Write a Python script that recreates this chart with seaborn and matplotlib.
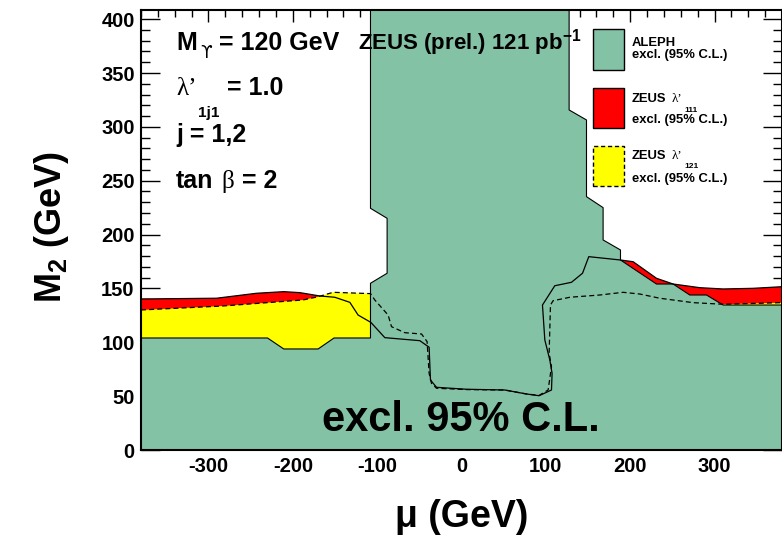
import numpy as np
import matplotlib
matplotlib.use("Agg")
import matplotlib.pyplot as plt
import seaborn as sns
from matplotlib.patches import Rectangle
from matplotlib.ticker import MultipleLocator

# ---------------- data ----------------
# ALEPH excluded region (polygon outline, mu in GeV, M2 in GeV)
aleph_mu = [-380, -380, -230.0, -210.7, -170.0, -151.1, -107.9, -107.9, -88.2, -88.2,
            -107.9, -107.9, 127.6, 127.6, 148.2, 148.2, 167.9, 167.9, 188.5, 188.5,
            231.2, 250.9, 270.7, 290.5, 310.2, 380, 380]
aleph_m2 = [0, 104, 104, 93.8, 93.8, 104, 104, 154.8, 164.1, 215.1,
            224.4, 430, 430, 315.7, 306.4, 235.2, 225.0, 195.0, 185.7, 176.4,
            154.1, 154.1, 143.9, 143.9, 134.6, 134.6, 0]

# ZEUS lambda'_111 exclusion contour (solid)
z111_mu = [-380, -290.5, -243.1, -210.7, -191.7, -168.0, -150.2, -132.4, -122.6, -107.5,
           -90.9, -49.4, -38.4, -36.8, -29.6, 5.9, 51.3, 77.1, 92.0, 106.7,
           107.4, 104.7, 98.8, 96.0, 110.6, 130.4, 143.5, 150.9, 188.5, 203.5,
           231.2, 250.9, 282.5, 310.2, 345.7, 380]
z111_m2 = [140.2, 140.9, 145.5, 147.0, 146.1, 143.0, 141.8, 137.1, 125.3, 118.5,
           104.3, 101.5, 95.4, 65.0, 58.2, 56.4, 55.7, 52.0, 50.4, 55.7,
           71.2, 83.6, 102.1, 134.6, 152.5, 155.7, 164.1, 179.5, 176.4, 174.8,
           159.4, 154.1, 150.7, 149.5, 150.1, 151.6]

# ZEUS lambda'_121 exclusion contour (dashed)
z121_mu = [-380, -282.7, -187.8, -170.0, -152.2, -107.9, -102.8, -87.0, -83.0, -67.2,
           -47.4, -40.8, -38.4, -35.6, -29.6, 5.9, 51.3, 77.1, 92.0, 102.7,
           106.7, 103.9, 105.5, 108.6, 128.4, 164.0, 191.6, 211.4, 235.1, 274.6,
           310.2, 380]
z121_m2 = [130.0, 133.7, 139.3, 142.3, 146.4, 145.2, 139.3, 125.3, 114.5, 108.9,
           107.7, 100.6, 71.2, 61.9, 57.3, 56.1, 55.7, 52.0, 50.7, 55.7,
           77.3, 89.8, 134.6, 138.6, 141.8, 143.9, 146.4, 144.8, 140.9, 136.8,
           135.3, 136.8]

x_ticks = [-300, -200, -100, 0, 100, 200, 300]
y_ticks = [0, 50, 100, 150, 200, 250, 300, 350, 400]

GREEN = "#84C2A5"
RED = "#FF0000"
YELLOW = "#FFFF00"

# ---------------- style ----------------
sns.set_theme(style="ticks")
plt.rcParams.update({
    "font.family": ["Liberation Sans", "DejaVu Sans"],
    "font.weight": "bold",
    "text.color": "black",
    "axes.labelcolor": "black",
    "axes.edgecolor": "black",
    "xtick.color": "black",
    "ytick.color": "black",
    "axes.unicode_minus": False,
    "mathtext.fontset": "custom",
    "mathtext.rm": "Liberation Sans:bold",
    "mathtext.bf": "Liberation Sans:bold",
    "mathtext.it": "Liberation Sans:bold:italic",
    "mathtext.sf": "Liberation Sans:bold",
    "mathtext.default": "rm",
})

W, H = 782, 535
fig = plt.figure(figsize=(W / 100, H / 100), dpi=100)
fig.patch.set_facecolor("white")
ax = fig.add_axes([141 / W, 85 / H, 641 / W, 440 / H])
ax.set_facecolor("white")

# filled exclusion regions
mu1 = np.asarray(z111_mu); m1 = np.asarray(z111_m2)
mu2 = np.asarray(z121_mu); m2 = np.asarray(z121_m2)
ax.fill(np.r_[mu1, mu1[-1], mu1[0]], np.r_[m1, 0, 0], color=RED, lw=0, zorder=1)
ax.fill(np.r_[mu2, mu2[-1], mu2[0]], np.r_[m2, 0, 0], color=YELLOW, lw=0, zorder=2)
ax.fill(aleph_mu, aleph_m2, facecolor=GREEN, edgecolor="black", lw=0.8, zorder=3)

# contour lines
sns.lineplot(x=z111_mu, y=z111_m2, sort=False, estimator=None, color="black",
             linewidth=0.9, ax=ax, zorder=5)
sns.lineplot(x=z121_mu, y=z121_m2, sort=False, estimator=None, color="black",
             linewidth=0.9, linestyle=(0, (4, 2.5)), ax=ax, zorder=5)

ax.set_xlim(-380, 380)
ax.set_ylim(0, 408.5)
ax.set_xticks(x_ticks)
ax.set_yticks(y_ticks)
ax.set_xticklabels([str(v) for v in x_ticks])
ax.set_yticklabels([str(v) for v in y_ticks])
ax.xaxis.set_minor_locator(MultipleLocator(20))
ax.yaxis.set_minor_locator(MultipleLocator(10))
ax.tick_params(axis="x", which="major", direction="in", length=8.4, width=1.0,
               top=True, bottom=True, pad=5, labelsize=14.5, color="black",
               labelcolor="black")
ax.tick_params(axis="x", which="minor", direction="in", length=5, width=1.0,
               top=True, bottom=True, color="black")
ax.tick_params(axis="y", which="major", direction="in", length=13.7, width=1.0,
               left=True, right=True, pad=4.5, labelsize=14.5, color="black",
               labelcolor="black")
ax.tick_params(axis="y", which="minor", direction="in", length=6.5, width=1.0,
               left=True, right=True, color="black")
for lab in ax.get_xticklabels() + ax.get_yticklabels():
    lab.set_fontweight("bold")
for sp in ax.spines.values():
    sp.set_visible(True)
    sp.set_linewidth(1.5)
    sp.set_color("black")
    sp.set_zorder(10)
ax.grid(False)

# axis titles
ax.set_xlabel("μ (GeV)", fontsize=27, fontweight="bold", color="black")
ax.xaxis.label.set_va("baseline")
ax.xaxis.set_label_coords(0.5, (450 - 526.7) / 440)
ax.set_ylabel("M$_2$ (GeV)", fontsize=26, fontweight="bold", color="black")
ax.yaxis.label.set_va("baseline")
ax.yaxis.set_label_coords((61 - 141) / 641, (450 - 226.5) / 440)


def ftext(x, y, s, **kw):
    kw.setdefault("ha", "left")
    kw.setdefault("va", "baseline")
    kw.setdefault("fontweight", "bold")
    kw.setdefault("color", "black")
    return fig.text(x / W, 1 - y / H, s, zorder=20, **kw)


# annotations
ftext(176, 50, "M", fontsize=18)
ftext(200, 58, "ϒ", fontsize=12, family="DejaVu Sans", fontweight="normal")
ftext(219, 50, "= 120 GeV", fontsize=18)
ftext(358, 50, "ZEUS (prel.) 121 pb$^{-1}$", fontsize=16)
ftext(176, 95, "λ’", fontsize=18, family="Liberation Serif", fontweight="normal")
ftext(198, 116.7, "1j1", fontsize=11)
ftext(227, 95, "= 1.0", fontsize=18)
ftext(176, 141.7, "j = 1,2", fontsize=18)
ftext(176, 188.3, "tan", fontsize=18)
ftext(221, 188.3, "β", fontsize=18, family="Liberation Serif", fontweight="normal")
ftext(241.7, 188.3, "= 2", fontsize=18)
ftext(460.5, 430.7, "excl. 95% C.L.", fontsize=30, ha="center")

# key boxes (legend)
def keybox(y0, y1, face, ls="-"):
    r = Rectangle((593.3 / W, 1 - y1 / H), 31 / W, (y1 - y0) / H,
                  transform=fig.transFigure, facecolor=face, edgecolor="black",
                  lw=1.0, linestyle=ls, zorder=20)
    fig.patches.append(r)

keybox(29.3, 70, GREEN)
keybox(87.7, 127.7, RED)
keybox(145.7, 185.7, YELLOW, ls=(0, (3, 2)))
LF = 9.4
ftext(631.7, 46, "ALEPH", fontsize=LF)
ftext(631.7, 58.3, "excl. (95% C.L.)", fontsize=LF)
ftext(631.7, 101.7, "ZEUS", fontsize=LF)
ftext(671.7, 101.7, "λ’", fontsize=LF, family="Liberation Serif", fontweight="normal")
ftext(684, 111.7, "111", fontsize=6)
ftext(631.7, 123.3, "excl. (95% C.L.)", fontsize=LF)
ftext(631.7, 159.3, "ZEUS", fontsize=LF)
ftext(671.7, 159.3, "λ’", fontsize=LF, family="Liberation Serif", fontweight="normal")
ftext(684, 168.3, "121", fontsize=6)
ftext(631.7, 181.7, "excl. (95% C.L.)", fontsize=LF)

fig.savefig("out.png", dpi=100, facecolor="white")
